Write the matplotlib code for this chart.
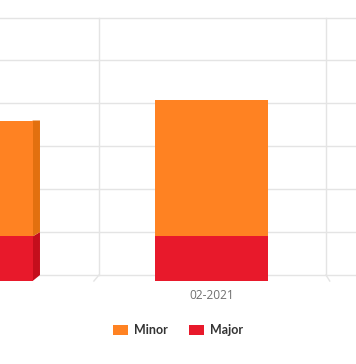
import numpy as np
import matplotlib
matplotlib.use('Agg')
import matplotlib.pyplot as plt
from matplotlib.patches import Polygon

# data
months = ['01-2021', '02-2021']
major = [5.0, 5.0]
minor = [13.0, 15.3]
yticks = [0, 5, 10, 15, 20, 25, 30]

orange, orange_side = '#FF8222', '#E2700F'
red, red_side = '#E8192B', '#C40E1C'
grid_col = '#e4e4e4'

W, H = 356, 364
fig = plt.figure(figsize=(W/100, H/100), dpi=100)

def px_rect(l, t, r, b):
    return [l/W, 1-b/H, (r-l)/W, (b-t)/H]

# back wall (grid) and front plane (bars), front scaled about a vanishing point
vx, vy, s = 230.0, 120.0, 1/0.9625
bl, bt, br, bb = -128.0, 17.5, 553.0, 275.0
fl, ft = vx+(bl-vx)*s, vy+(bt-vy)*s
fr, fb = vx+(br-vx)*s, vy+(bb-vy)*s

axb = fig.add_axes(px_rect(bl, bt, br, bb), zorder=0)
axf = fig.add_axes(px_rect(fl, ft, fr, fb), zorder=1)
for ax in (axb, axf):
    ax.set_xlim(-0.5, 2.5)
    ax.set_ylim(0, 30)
    for sp in ax.spines.values():
        sp.set_visible(False)
    ax.set_yticks([])
axf.patch.set_alpha(0)
axb.set_xticks([])

for v in yticks:
    axb.axhline(v, color=grid_col, lw=1, clip_on=False, zorder=0)
for xb in [0.5, 1.5, 2.5]:
    axb.plot([xb, xb], [0, 30], color=grid_col, lw=1, clip_on=False)
    # floor diagonal from back wall to front
    p_back = axb.transData.transform((xb, 0))
    p_front = axf.transData.transform((xb, 0))
    q = axf.transData.inverted().transform([p_back, p_front])
    axf.plot(q[:, 0], q[:, 1], color=grid_col, lw=1, clip_on=False, zorder=0)

x = np.arange(len(months))
w = 0.48
b1 = axf.bar(x, major, w, color=red, zorder=3, label='Major')
b2 = axf.bar(x, minor, w, bottom=major, color=orange, zorder=3, label='Minor')

# side faces where visible
for i in range(len(months)):
    segs = [(0, major[i], red_side), (major[i], major[i]+minor[i], orange_side)]
    for edge in (x[i]+w/2, x[i]-w/2):
        for v0, v1, col in segs:
            f0 = axf.transData.transform((edge, v0))
            f1 = axf.transData.transform((edge, v1))
            k0 = axb.transData.transform((edge, v0))
            k1 = axb.transData.transform((edge, v1))
            right = edge > x[i]
            if (right and k0[0] > f0[0]) or (not right and k0[0] < f0[0]):
                pts = axf.transData.inverted().transform([f0, f1, k1, k0])
                axf.add_patch(Polygon(pts, closed=True, facecolor=col,
                                      edgecolor='none', zorder=2))

axf.set_xticks(x)
axf.set_xticklabels(months, family='Open Sans', size=8.6, color='#707070')
axf.tick_params(axis='x', length=0, pad=5.5)

fig.legend(handles=[b2, b1], labels=['Minor', 'Major'], loc='center',
           bbox_to_anchor=(0.5, 1-330.5/H), ncol=2, frameon=False,
           prop={'family': 'Lato', 'weight': 'bold', 'size': 9},
           labelcolor='#333333', handlelength=1.2, handleheight=0.9,
           handletextpad=0.5, columnspacing=1.7)

fig.savefig('out.png', dpi=100, facecolor='white')
